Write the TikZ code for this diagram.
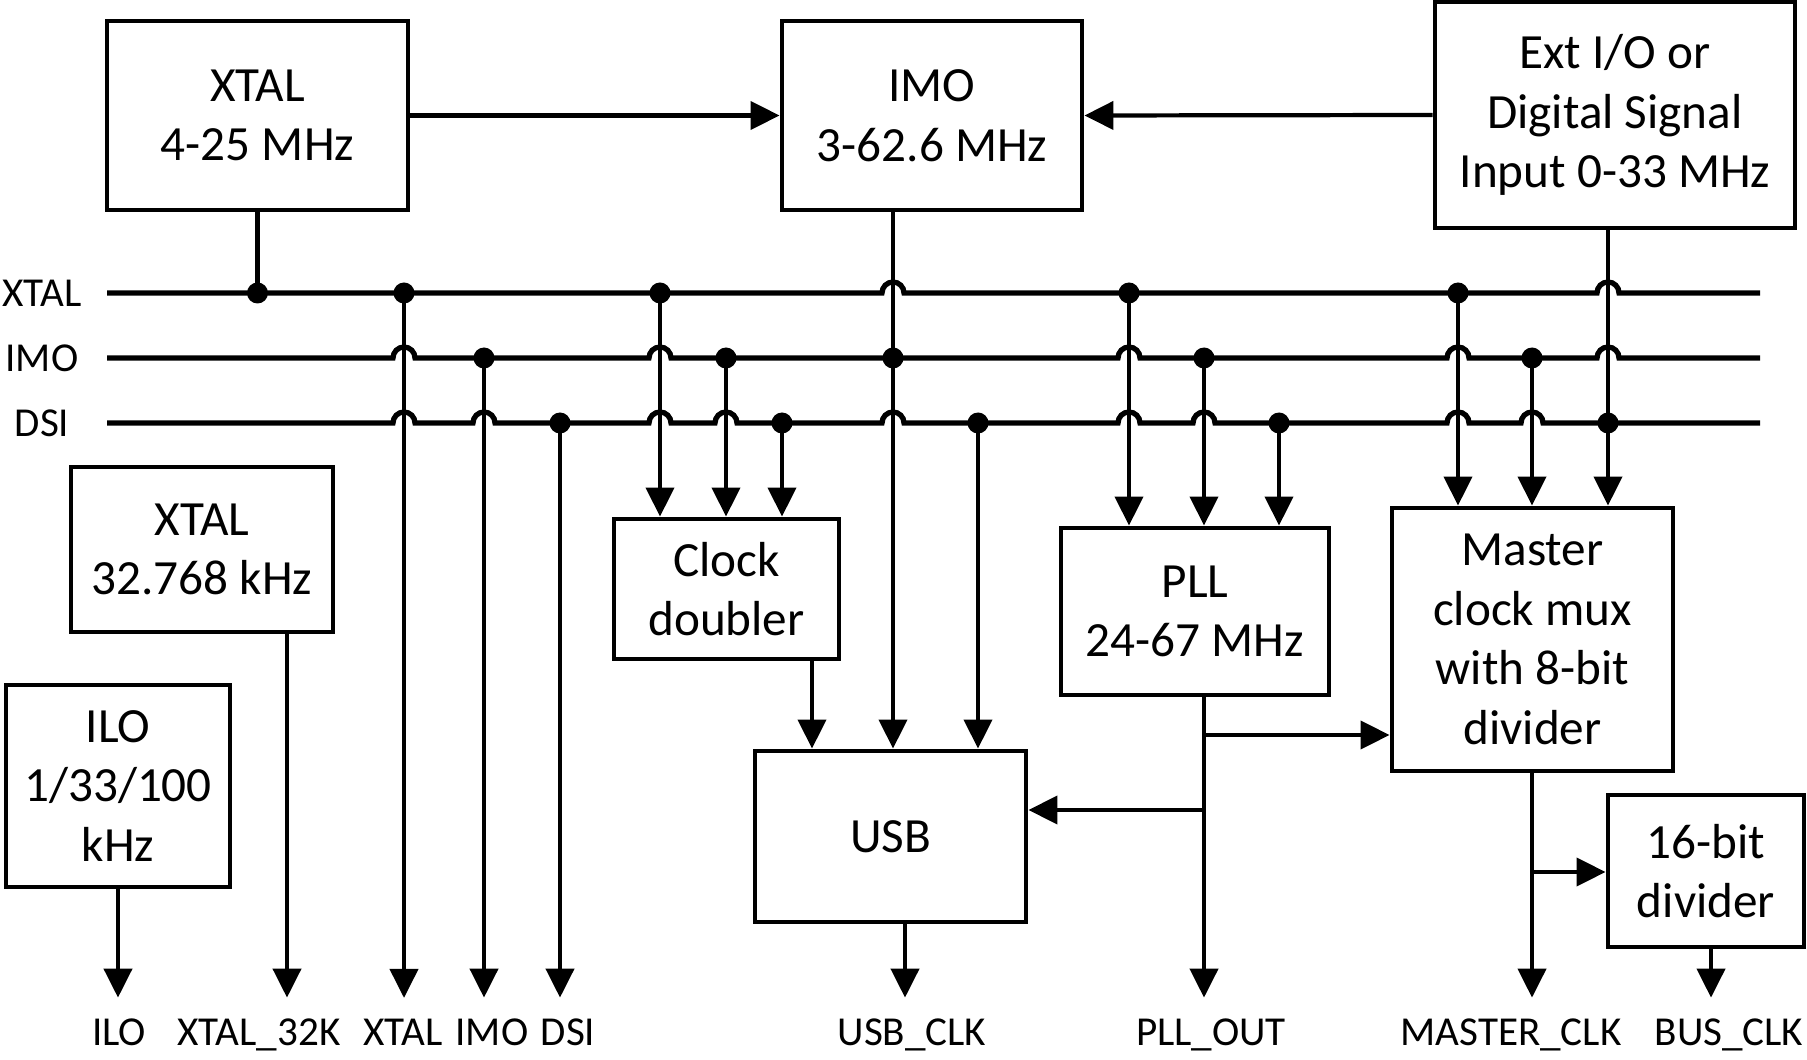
\documentclass[tikz,border=0pt]{standalone}
\usepackage{fontspec}
\setmainfont{Carlito}
\usetikzlibrary{arrows.meta,positioning,calc}
\tikzset{
  blk/.style={rectangle, draw=black, line width=1.4pt, align=center, inner sep=0pt,
              font=\fontsize{14}{17}\selectfont},
  sig/.style={font=\fontsize{11.7}{14}\selectfont, inner sep=0pt, anchor=base},
  outlbl/.style={font=\fontsize{11.7}{14}\selectfont, inner xsep=0pt, inner ysep=0.2cm, anchor=base},
  arr/.style={-{Triangle[length=0.29cm, width=0.28cm]}, line width=1.2pt},
  wire/.style={line width=1.2pt},
  bus/.style={line width=1.5pt},
  jn/.style={circle, fill=black, inner sep=0pt, minimum size=0.21cm},
}
\begin{document}
\begin{tikzpicture}
\useasboundingbox (0,0) rectangle (18.07,-10.60);
% sources
\node[blk, minimum width=3.01cm, minimum height=1.89cm] (xhf) at (2.575,-1.155) {XTAL\\4-25 MHz};
\node[blk, minimum width=3.00cm, minimum height=1.89cm] (imo) at (9.32,-1.155) {IMO\\3-62.6 MHz};
\node[blk, minimum width=3.60cm, minimum height=2.26cm] (ext) at (16.15,-1.15) {Ext I/O or\\Digital Signal\\Input 0-33 MHz};
\node[blk, minimum width=2.62cm, minimum height=1.65cm] (x32) at (2.02,-5.495) {XTAL\\32.768 kHz};
\node[blk, minimum width=2.24cm, minimum height=2.02cm] (ilo) at (1.18,-7.86) {ILO\\1/33/100\\kHz};
% consumers
\node[blk, minimum width=2.25cm, minimum height=1.40cm] (dbl) at (7.265,-5.89) {Clock\\doubler};
\node[blk, minimum width=2.71cm, minimum height=1.71cm] (usb) at (8.905,-8.365) {USB};
\node[blk, minimum width=2.68cm, minimum height=1.67cm] (pll) at (11.95,-6.115) {PLL\\24-67 MHz};
\node[blk, minimum width=2.81cm, minimum height=2.63cm] (mux) at (15.325,-6.395) {Master\\clock mux\\with 8-bit\\divider};
\node[blk, minimum width=1.96cm, minimum height=1.52cm] (div) at (17.06,-8.71) {16-bit\\divider};

\draw[arr] (xhf.east) -- (imo.west);
\draw[arr] (ext.west) -- (imo.east);

% bus labels
\node[sig] (lx) at (0.42,-3.062) {XTAL};
\node[sig] (li) at (0.42,-3.712) {IMO};
\node[sig] (ld) at (0.42,-4.362) {DSI};

% buses with hops
\draw[bus] (1.07,-2.93) \foreach \h in {8.93,16.08} {-- (\h-0.11,-2.93) arc[start angle=180, end angle=0, radius=0.11]} -- (17.60,-2.93);
\draw[bus] (1.07,-3.58) \foreach \h in {4.04,6.60,11.29,14.58,16.08} {-- (\h-0.11,-3.58) arc[start angle=180, end angle=0, radius=0.11]} -- (17.60,-3.58);
\draw[bus] (1.07,-4.23) \foreach \h in {4.04,4.84,6.60,7.26,8.93,11.29,12.04,14.58,15.32} {-- (\h-0.11,-4.23) arc[start angle=180, end angle=0, radius=0.11]} -- (17.60,-4.23);

% junctions
\foreach \x [count=\i] in {2.575,4.04,6.60,11.29,14.58} \coordinate (jx\i) at (\x,-2.93);
\foreach \x [count=\i] in {4.84,7.26,8.93,12.04,15.32} \coordinate (ji\i) at (\x,-3.58);
\foreach \x [count=\i] in {5.60,7.82,9.78,12.79,16.08} \coordinate (jd\i) at (\x,-4.23);

% output labels
\node[outlbl] (lilo) at (1.19,-10.45) {ILO};
\node[outlbl] (l32) at (2.59,-10.45) {XTAL\_32K};
\node[outlbl] (lxo) at (4.03,-10.45) {XTAL};
\node[outlbl] (lio) at (4.92,-10.45) {IMO};
\node[outlbl] (ldo) at (5.68,-10.45) {DSI};
\node[outlbl] (lusb) at (9.12,-10.45) {USB\_CLK};
\node[outlbl] (lpll) at (12.11,-10.45) {PLL\_OUT};
\node[outlbl] (lmc) at (15.11,-10.45) {MASTER\_CLK};
\node[outlbl] (lbc) at (17.29,-10.45) {BUS\_CLK};

% source stems
\draw[wire] (xhf.south) -- (jx1);
\draw[arr] (ji3 |- imo.south) -- (ji3 |- usb.north);
\draw[arr] (jd5 |- ext.south) -- (jd5 |- mux.north);

% taps
\draw[arr] (jx2) -- (jx2 |- lxo.north);
\draw[arr] (ji1) -- (ji1 |- lio.north);
\draw[arr] (jd1) -- (jd1 |- ldo.north);
\draw[arr] (jx3) -- (jx3 |- dbl.north);
\draw[arr] (ji2) -- (ji2 |- dbl.north);
\draw[arr] (jd2) -- (jd2 |- dbl.north);
\draw[arr] (jd3) -- (jd3 |- usb.north);
\draw[arr] (jx4) -- (jx4 |- pll.north);
\draw[arr] (ji4) -- (ji4 |- pll.north);
\draw[arr] (jd4) -- (jd4 |- pll.north);
\draw[arr] (jx5) -- (jx5 |- mux.north);
\draw[arr] (ji5) -- (ji5 |- mux.north);

% outputs
\coordinate (o32) at ([xshift=0.85cm]x32.south);
\coordinate (odbl) at ([xshift=0.855cm]dbl.south);
\coordinate (ousb) at ([xshift=0.145cm]usb.south);
\coordinate (opll) at (ji4 |- pll.south);
\coordinate (omux) at (ji5 |- mux.south);
\coordinate (odiv) at ([xshift=0.05cm]div.south);
\draw[arr] (ilo.south) -- (ilo.south |- lilo.north);
\draw[arr] (o32) -- (o32 |- l32.north);
\draw[arr] (odbl) -- (odbl |- usb.north);
\draw[arr] (ousb) -- (ousb |- lusb.north);
\draw[arr] (opll) -- (opll |- lpll.north);
\draw[arr] (omux) -- (omux |- lmc.north);
\draw[arr] (odiv) -- (odiv |- lbc.north);
\coordinate (br1) at (12.04,-7.35);
\coordinate (br2) at (12.04,-8.10);
\coordinate (br3) at (15.32,-8.72);
\draw[arr] (br1) -- (br1 -| mux.west);
\draw[arr] (br2) -- (br2 -| usb.east);
\draw[arr] (br3) -- (br3 -| div.west);

% dots on top
\foreach \j in {jx1,jx2,jx3,jx4,jx5,ji1,ji2,ji3,ji4,ji5,jd1,jd2,jd3,jd4,jd5}
  \node[jn] (d\j) at (\j) {};
\end{tikzpicture}
\end{document}
